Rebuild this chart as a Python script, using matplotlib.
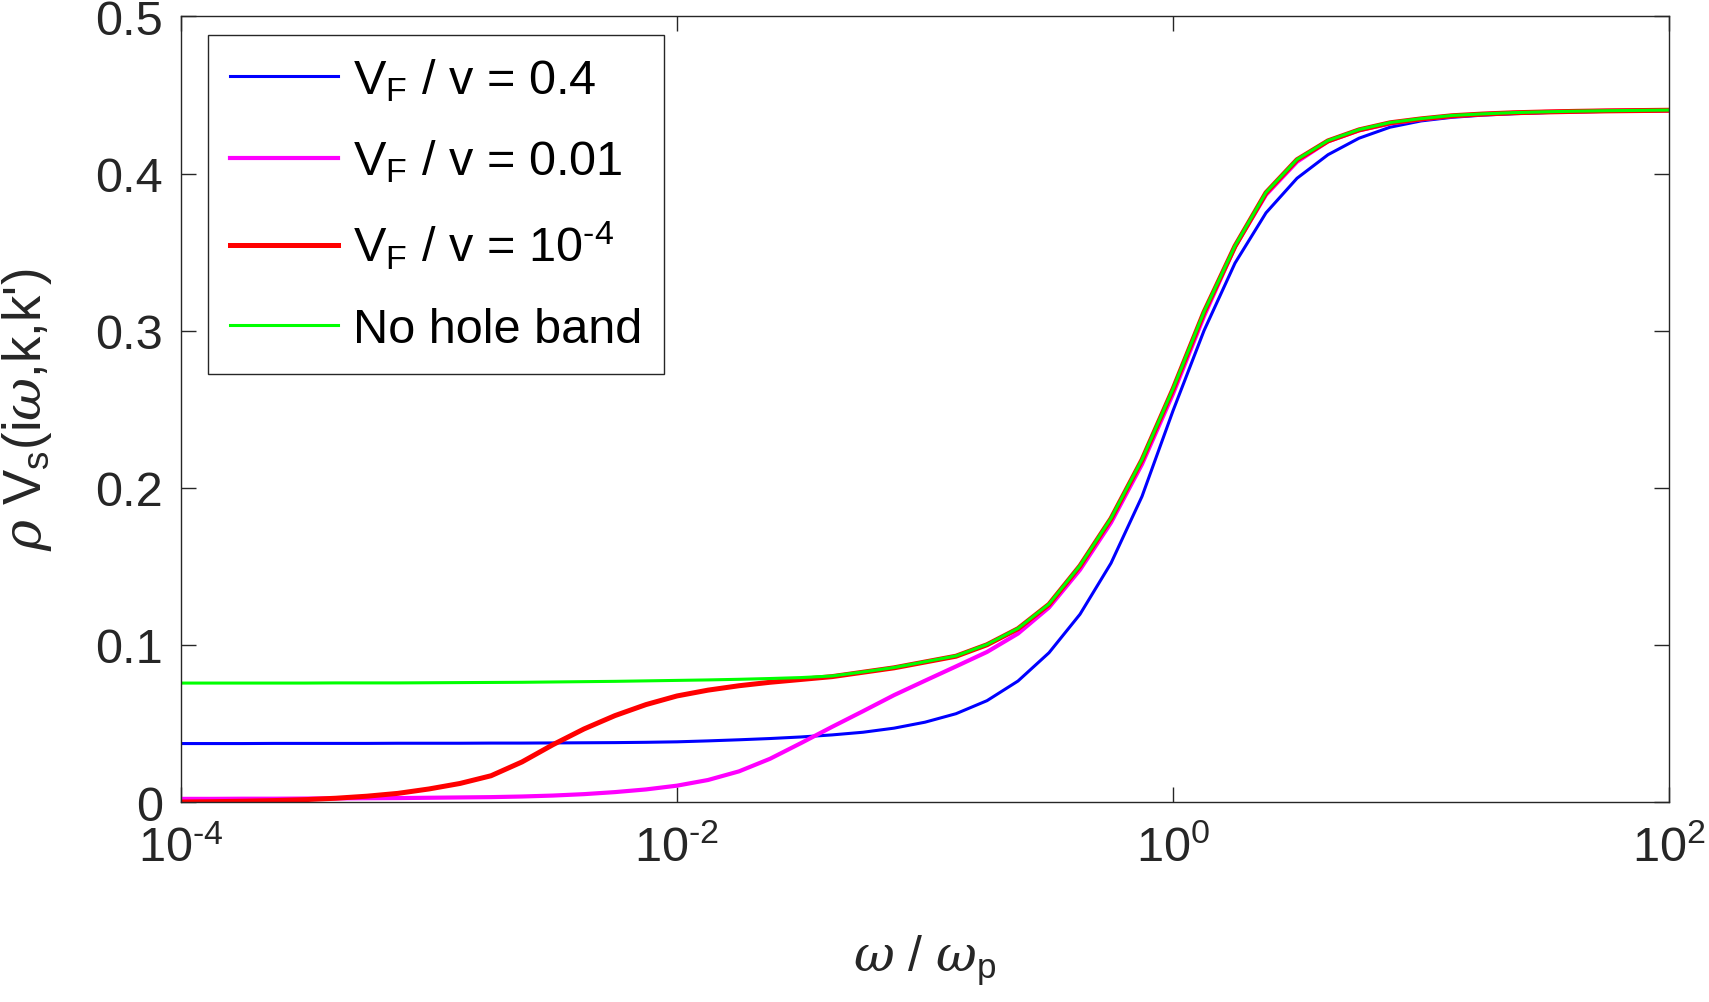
import numpy as np
import matplotlib
matplotlib.use('Agg')
import matplotlib.pyplot as plt

# fonts: sans for text, slanted serif for the greek letters
plt.rcParams['font.family'] = ['Liberation Sans', 'DejaVu Sans']
plt.rcParams['mathtext.fontset'] = 'custom'
plt.rcParams['mathtext.rm'] = 'Liberation Sans'
plt.rcParams['mathtext.it'] = 'DejaVu Serif:italic'
plt.rcParams['mathtext.bf'] = 'Liberation Sans:bold'

# log10(omega / omega_p), every 1/8 decade
log_w = [-4, -3.875, -3.75, -3.625, -3.5, -3.375, -3.25, -3.125,
         -3, -2.875, -2.75, -2.625, -2.5, -2.375, -2.25, -2.125,
         -2, -1.875, -1.75, -1.625, -1.5, -1.375, -1.25, -1.125,
         -1, -0.875, -0.75, -0.625, -0.5, -0.375, -0.25, -0.125,
         0, 0.125, 0.25, 0.375, 0.5, 0.625, 0.75, 0.875,
         1, 1.125, 1.25, 1.375, 1.5, 1.625, 1.75, 1.875, 2]

# V_F / v = 0.4
vs_04 = [0.0372, 0.0372, 0.0372, 0.0373, 0.0373, 0.0373, 0.0373, 0.0374,
         0.0374, 0.0374, 0.0375, 0.0375, 0.0376, 0.0377, 0.0378, 0.0380,
         0.0383, 0.0389, 0.0396, 0.0404, 0.0414, 0.0427, 0.0444, 0.0470,
         0.0508, 0.0562, 0.0645, 0.0770, 0.0950, 0.1195, 0.1520, 0.1945,
         0.2490, 0.3000, 0.3430, 0.3750, 0.3970, 0.4120, 0.4225, 0.4295,
         0.4335, 0.4358, 0.4372, 0.4381, 0.4388, 0.4393, 0.4396, 0.4398, 0.4400]

# V_F / v = 0.01
vs_001 = [0.0020, 0.0020, 0.0021, 0.0021, 0.0022, 0.0023, 0.0024, 0.0025,
          0.0027, 0.0029, 0.0031, 0.0035, 0.0041, 0.0050, 0.0063, 0.0080,
          0.0104, 0.0140, 0.0195, 0.0275, 0.0375, 0.0478, 0.0578, 0.0680,
          0.0772, 0.0863, 0.0955, 0.1072, 0.1238, 0.1478, 0.1778, 0.2150,
          0.2598, 0.3092, 0.3535, 0.3865, 0.4075, 0.4205, 0.4275, 0.4318,
          0.4345, 0.4365, 0.4378, 0.4386, 0.4392, 0.4396, 0.4399, 0.4401, 0.4403]

# V_F / v = 1e-4
vs_1e4 = [0.0000, 0.0002, 0.0005, 0.0009, 0.0015, 0.0024, 0.0037, 0.0055,
          0.0083, 0.0118, 0.0167, 0.0255, 0.0365, 0.0465, 0.0550, 0.0620,
          0.0675, 0.0712, 0.0740, 0.0762, 0.0780, 0.0798, 0.0826, 0.0854,
          0.0891, 0.0928, 0.1001, 0.1103, 0.1258, 0.1503, 0.1804, 0.2178,
          0.2628, 0.3118, 0.3538, 0.3878, 0.4088, 0.4208, 0.4278, 0.4323,
          0.4348, 0.4368, 0.4379, 0.4387, 0.4392, 0.4396, 0.4399, 0.4401, 0.4403]

# no hole band
vs_nohole = [0.0757, 0.0757, 0.0757, 0.0757, 0.0757, 0.0758, 0.0758, 0.0758,
             0.0759, 0.0760, 0.0761, 0.0762, 0.0764, 0.0766, 0.0768, 0.0771,
             0.0774, 0.0777, 0.0781, 0.0786, 0.0792, 0.0802, 0.0828, 0.0856,
             0.0893, 0.0930, 0.1003, 0.1105, 0.1260, 0.1505, 0.1806, 0.2180,
             0.2630, 0.3120, 0.3540, 0.3880, 0.4090, 0.4210, 0.4280, 0.4325,
             0.4350, 0.4370, 0.4380, 0.4388, 0.4393, 0.4397, 0.4400, 0.4402, 0.4404]

hy = '\u2010'
labels = [r'V$_{\mathrm{F}}$ / v = 0.4', r'V$_{\mathrm{F}}$ / v = 0.01',
          r'V$_{\mathrm{F}}$ / v = 10$^{\mathrm{' + hy + r'4}}$', 'No hole band']

x_ticks = [1e-4, 1e-2, 1e0, 1e2]
x_ticklabels = [r'10$^{\mathrm{' + hy + r'4}}$', r'10$^{\mathrm{' + hy + r'2}}$',
                r'10$^{\mathrm{0}}$', r'10$^{\mathrm{2}}$']
y_ticks = [0, 0.1, 0.2, 0.3, 0.4, 0.5]
y_ticklabels = ['0', '0.1', '0.2', '0.3', '0.4', '0.5']

w = 10.0 ** np.array(log_w)
gray = '#262626'

fig = plt.figure(figsize=(17.09, 10.03), dpi=100)
ax = fig.add_axes([0.1059, 0.1994, 0.8707, 0.7832])

ax.plot(w, vs_04, color='#0000ff', lw=2.2, label=labels[0])
ax.plot(w, vs_001, color='#ff00ff', lw=3.0, label=labels[1])
ax.plot(w, vs_1e4, color='#ff0000', lw=3.6, label=labels[2])
ax.plot(w, vs_nohole, color='#00ff00', lw=2.2, label=labels[3])

ax.set_xscale('log')
ax.set_xlim(1e-4, 1e2)
ax.set_ylim(0, 0.5)
ax.set_xticks(x_ticks)
ax.set_xticklabels(x_ticklabels)
ax.set_yticks(y_ticks)
ax.set_yticklabels(y_ticklabels)
ax.minorticks_off()

ax.tick_params(axis='both', which='major', direction='in', length=11, width=1.0,
               color=gray, labelcolor=gray, labelsize=35, top=True, right=True)
ax.tick_params(axis='y', pad=13)
ax.tick_params(axis='x', pad=17)
for sp in ax.spines.values():
    sp.set_color(gray)
    sp.set_linewidth(1.0)

ax.set_xlabel(r'$\omega$ / $\omega_{\mathrm{p}}$', fontsize=36, color=gray, va='center')
ax.xaxis.set_label_coords(0.5, -0.20)
ax.set_ylabel(r"$\rho$ V$_{\mathrm{s}}$(i$\omega$,k,k')", fontsize=38, color=gray, va='center')
ax.yaxis.set_label_coords(-0.1035, 0.5)

leg = ax.legend(loc='upper left', bbox_to_anchor=(0.1215, 0.9644),
                bbox_transform=fig.transFigure, borderaxespad=0, fontsize=35,
                frameon=True, fancybox=False, edgecolor=gray, framealpha=1,
                handlelength=2.24, handletextpad=0.3, borderpad=0.45, labelspacing=0.72)
leg.get_frame().set_linewidth(1.0)

fig.savefig('out.png', dpi=100)
